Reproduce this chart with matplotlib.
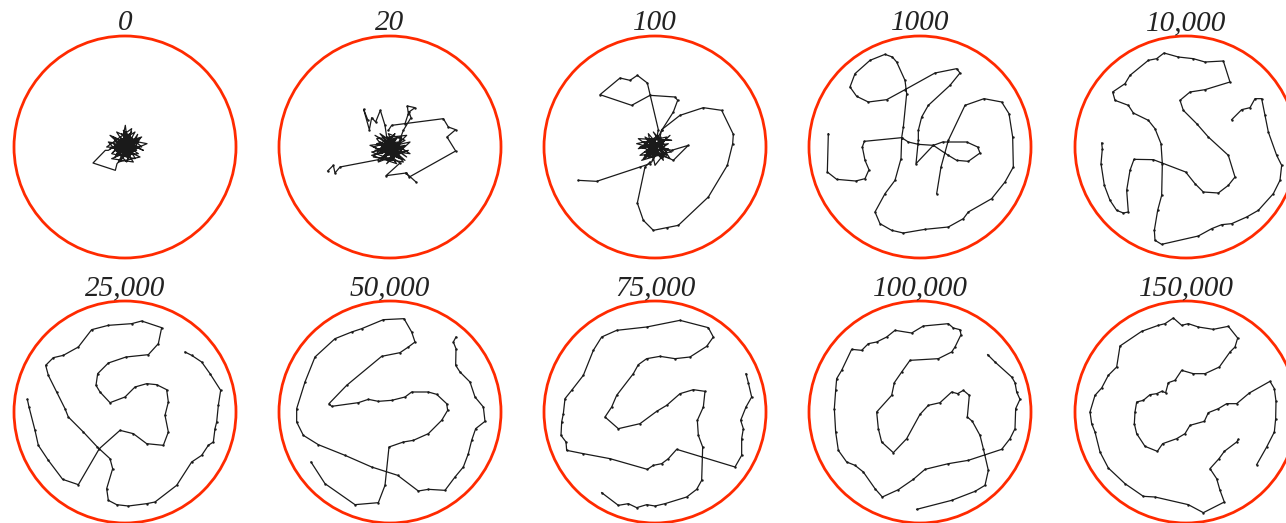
import matplotlib
matplotlib.use("Agg")
import matplotlib.pyplot as plt
from matplotlib.patches import Circle

# panel titles (simulation step)
titles = ["0", "20", "100", "1000", "10,000",
          "25,000", "50,000", "75,000", "100,000", "150,000"]

# digitised traces: points in picture pixels (x3) of each panel crop,
# together with the circle centre of that crop; circle radius = 333 units
R_DIG = 333
dig_centres = [(344, 350), (355, 350), (345, 350), (345, 350), (363, 350),
               (345, 350), (355, 350), (345, 350), (345, 350), (363, 350)]

# dense tangles at the start, given relative to the circle centre
cluster_0 = [(0, 5), (-30, 20), (25, -15), (-10, 40), (35, 10), (-45, -5), (15, 30), (-20, -25),
             (40, -20), (-35, 30), (10, -35), (45, 25), (-25, 5), (20, 45), (-40, -20), (30, -35),
             (-5, 50), (50, 0), (-50, 15), (5, -45), (38, 38), (-15, -40), (25, 15), (-30, -10),
             (15, -20), (-45, 35), (55, -10), (-10, 20), (30, 45), (-20, -45), (45, -30), (-35, 10),
             (0, -25), (20, 55), (-55, 0), (35, -5), (-5, 35), (1, 65), (10, -10), (-25, 45),
             (40, 15), (66, 10), (-40, -35), (25, -45), (-15, 10), (50, 30), (-30, -30), (5, 25),
             (-50, -10), (-59, -10), (-96, -48), (-29, -70), (-24, -50), (30, 5), (-10, -15), (15, 40),
             (-20, 15), (20, -5), (-10, -30), (30, 25), (-35, -15), (5, 15), (25, -25), (-15, 30),
             (35, -10), (-25, -20), (10, 30), (-5, -10), (28, 12), (-30, 0), (15, -30), (-8, 22)]
cluster_20 = [(-5, 0), (30, -20), (-40, 10), (20, 25), (-25, -35), (45, 5), (-55, -15), (10, -40),
              (35, 30), (-15, 20), (50, -30), (-45, 35), (25, -5), (-10, -50), (60, 15), (-30, -5),
              (15, 40), (-50, -30), (40, -45), (-20, 30), (5, -20), (55, -10), (-35, -45), (25, 15),
              (-60, 5), (30, -35), (-5, 40), (45, 20), (-25, -20), (10, 5), (-45, -10), (35, -15),
              (0, 30), (-15, -30), (50, 35), (-40, 25), (20, -50), (-55, -25), (40, 0), (-10, 10),
              (25, -25), (-30, 40), (60, -20), (-20, -10), (15, 20), (-50, 0), (45, -40), (5, -5),
              (-30, 15), (20, -15), (-10, -25), (30, 10), (-35, -20), (10, 20), (-20, 5), (25, -30),
              (-5, 25), (35, -5), (-25, -10), (15, -10)]
cluster_100 = [(0, 0), (-35, 15), (30, -20), (-20, -30), (40, 10), (-50, -5), (10, 35), (25, -40),
               (-30, 30), (50, -15), (-45, -25), (15, 20), (-10, -45), (35, 30), (-55, 10), (20, -10),
               (-25, -10), (45, -35), (-5, 45), (30, 5), (-40, -40), (10, -25), (-15, 25), (50, 20),
               (-50, 25), (25, -30), (-30, -15), (40, -5), (0, -55), (-20, 40), (35, -25), (-45, 0),
               (15, 10), (-10, -20), (45, 35), (-35, -35), (5, 25), (25, 15), (-25, 5),
               (-15, -5), (20, 20), (-30, -25), (10, -15), (-20, 20), (30, -10), (-5, 15), (15, -30)]

# arms / full chains in crop coordinates
arms_20 = [
    [(345, 320), (340, 285), (326, 240), (312, 275), (300, 262), (293, 298), (276, 237), (288, 268)],
    [(350, 300), (360, 285), (515, 265), (530, 290), (552, 298), (526, 320), (552, 362), (413, 440),
     (403, 428), (343, 436), (385, 398), (360, 380)],
    [(403, 428), (433, 455)],
    [(168, 422), (185, 405), (190, 428), (205, 410), (320, 388), (345, 370)],
    [(380, 340), (395, 300), (418, 262), (412, 245), (430, 232), (407, 227), (410, 250), (400, 280)],
]
arms_100 = [
    [(350, 325), (355, 298), (322, 158), (292, 135), (270, 150), (240, 143), (180, 193), (275, 225),
     (330, 195), (405, 200), (413, 210), (400, 245), (365, 300), (355, 320)],
    [(360, 320), (365, 298), (420, 255), (490, 232), (545, 240), (580, 312), (578, 340), (562, 405),
     (505, 500), (415, 585), (380, 592), (340, 600), (310, 570), (292, 518), (315, 410), (330, 395)],
    [(115, 450), (170, 453), (300, 410), (330, 400)],
    [(370, 375), (400, 390), (445, 345), (395, 360), (375, 355)],
]
chain_1000 = [(70, 310), (67, 425), (95, 447), (152, 452), (180, 445), (192, 418), (180, 390), (172, 350),
              (178, 333), (290, 322), (310, 335), (340, 342), (385, 345), (413, 335), (485, 335), (518, 350),
              (525, 368), (490, 393), (455, 390), (430, 375), (385, 345), (333, 400), (340, 330), (340, 300),
              (350, 260), (370, 225), (435, 165), (465, 128), (455, 115), (390, 128), (300, 178), (245, 208),
              (190, 215), (155, 198), (135, 170), (150, 130), (195, 90), (240, 72), (262, 80), (275, 95),
              (300, 150), (305, 190), (295, 290), (290, 322), (288, 385), (270, 450), (240, 490), (210, 545),
              (225, 580), (260, 600), (295, 608), (360, 597), (430, 590), (475, 565), (490, 545), (560, 505),
              (600, 455), (625, 410), (623, 320), (612, 250), (590, 215), (537, 205), (480, 225), (430, 330),
              (408, 410), (395, 490)]
chain_10000 = [(500, 268), (530, 238), (555, 232), (570, 205), (590, 205), (600, 255), (610, 305), (635, 375),
               (650, 405), (645, 450), (625, 490), (580, 540), (545, 560), (500, 580), (470, 583), (440, 595),
               (400, 617), (290, 642), (270, 630), (268, 600), (278, 540), (290, 495), (292, 400), (288, 340),
               (270, 295), (250, 270), (205, 248), (190, 225), (150, 210), (143, 185), (180, 160), (195, 135),
               (250, 90), (275, 85), (297, 68), (340, 80), (385, 85), (420, 95), (475, 92), (495, 155),
               (420, 178), (375, 185), (345, 210), (355, 240), (395, 280), (430, 320), (490, 375), (510, 440),
               (490, 465), (460, 488), (415, 485), (390, 460), (362, 425), (265, 388), (207, 387), (195, 420),
               (185, 480), (190, 545), (175, 548), (155, 540), (135, 510), (118, 465), (108, 400), (112, 355),
               (110, 338)]
chain_25000 = [(52, 312), (57, 335), (75, 405), (85, 450), (115, 495), (158, 552), (205, 568), (268, 460),
               (330, 405), (370, 415), (410, 445), (460, 450), (475, 410), (465, 360), (475, 320), (470, 283),
               (440, 268), (410, 265), (375, 275), (345, 305), (300, 322), (270, 290), (258, 270), (263, 235),
               (295, 203), (348, 185), (415, 178), (445, 145), (455, 97), (395, 77), (365, 85), (295, 90),
               (245, 103), (205, 155), (160, 180), (130, 187), (107, 210), (115, 240), (140, 290), (165, 340),
               (175, 365), (220, 410), (262, 455), (300, 490), (308, 520), (290, 580), (295, 615), (320, 628),
               (355, 632), (410, 625), (435, 620), (500, 570), (545, 500), (575, 480), (595, 450), (610, 440),
               (615, 400), (620, 380), (625, 330), (632, 285), (600, 235), (575, 200), (545, 180), (525, 170)]
chain_50000 = [(118, 500), (160, 565), (250, 628), (320, 622), (340, 570), (352, 455), (395, 440), (425, 435),
               (470, 415), (510, 375), (528, 345), (525, 325), (495, 297), (470, 290), (420, 290), (400, 305),
               (360, 315), (320, 318), (290, 312), (260, 322), (180, 333), (172, 325), (225, 270), (330, 183),
               (385, 172), (410, 155), (430, 140), (420, 110), (397, 70), (335, 73), (270, 100), (240, 110),
               (190, 130), (130, 185), (100, 260), (75, 340), (75, 380), (95, 420), (140, 448), (220, 480),
               (300, 515), (378, 540), (440, 587), (470, 582), (520, 585), (550, 545), (575, 515), (590, 475),
               (600, 435), (612, 400), (640, 378), (635, 335), (610, 305), (595, 260), (565, 230), (552, 210),
               (553, 160), (545, 140), (553, 125)]
chain_75000 = [(185, 592), (235, 630), (265, 625), (290, 637), (320, 628), (345, 632), (375, 625), (440, 605),
               (470, 582), (485, 555), (488, 455), (475, 420), (472, 375), (490, 335), (495, 288), (460, 283),
               (420, 295), (380, 330), (350, 348), (300, 385), (235, 400), (195, 365), (215, 335), (230, 300),
               (280, 235), (295, 208), (320, 190), (360, 183), (405, 190), (450, 185), (500, 153), (520, 125),
               (505, 97), (420, 75), (320, 95), (230, 105), (185, 125), (160, 165), (130, 240), (95, 285),
               (75, 310), (70, 355), (65, 380), (63, 420), (78, 440), (80, 465), (130, 475), (210, 490),
               (322, 522), (340, 510), (365, 505), (385, 490), (410, 462), (585, 515), (605, 480), (605, 430),
               (610, 400), (602, 375), (618, 335), (635, 305), (625, 262), (618, 235)]
chain_100000 = [(548, 178), (570, 200), (620, 245), (630, 262), (635, 290), (645, 312), (632, 340), (630, 400),
                (615, 430), (590, 462), (490, 495), (430, 505), (360, 522), (325, 552), (280, 583), (232, 605),
                (210, 580), (175, 530), (150, 510), (125, 500), (100, 465), (92, 410), (88, 340), (92, 285),
                (95, 250), (110, 225), (140, 162), (170, 165), (190, 145), (215, 140), (245, 125), (270, 105),
                (320, 113), (355, 92), (430, 85), (445, 98), (465, 103), (468, 118), (450, 155), (440, 170),
                (400, 190), (315, 195), (290, 230), (268, 262), (260, 300), (215, 350), (220, 400), (230, 440),
                (265, 472), (305, 430), (345, 357), (370, 330), (405, 322), (440, 290), (458, 295), (475, 285),
                (493, 300), (487, 365), (502, 378), (525, 420), (535, 460), (550, 525), (540, 570), (510, 588),
                (440, 615), (335, 642)]
chain_150000 = [(575, 508), (605, 455), (628, 410), (632, 370), (633, 318), (628, 280), (615, 258), (553, 293),
                (515, 325), (485, 325), (460, 340), (430, 352), (418, 378), (375, 390), (360, 415), (335, 430),
                (293, 445), (277, 468), (240, 453), (215, 415), (208, 385), (210, 350), (215, 320), (235, 315),
                (255, 298), (275, 295), (290, 288), (302, 292), (310, 262), (330, 255), (350, 225), (385, 235),
                (420, 235), (463, 215), (495, 170), (510, 155), (518, 128), (490, 93), (445, 102), (400, 95),
                (370, 85), (350, 90), (325, 68), (300, 85), (280, 90), (230, 108), (165, 152), (155, 215),
                (130, 240), (110, 278), (90, 300), (75, 350), (80, 385), (90, 410), (105, 470), (130, 518),
                (180, 565), (235, 603), (270, 605), (370, 628), (415, 652), (478, 620), (465, 585), (455, 550),
                (435, 520), (462, 490), (478, 468), (515, 440), (520, 432)]

clusters = [cluster_0, cluster_20, cluster_100, None, None, None, None, None, None, None]
chains = [[], arms_20, arms_100, [chain_1000], [chain_10000],
          [chain_25000], [chain_50000], [chain_75000], [chain_100000], [chain_150000]]

RED = "#ff2a00"
INK = "#1a1a1a"
W, H = 1286, 523
col_x = [125, 390, 655, 920, 1186]
row_y = [147, 412]
R_PX = 111
half = R_PX * 1.08

fig = plt.figure(figsize=(W / 100, H / 100), dpi=100)

for i, title in enumerate(titles):
    cx, cy = col_x[i % 5], row_y[i // 5]
    ax = fig.add_axes([(cx - half) / W, (H - cy - half) / H, 2 * half / W, 2 * half / H])
    ax.set_xlim(-1.08, 1.08)
    ax.set_ylim(-1.08, 1.08)
    ax.set_aspect("equal")
    ax.axis("off")
    ax.add_patch(Circle((0, 0), 1, fill=False, ec=RED, lw=2.0))

    dcx, dcy = dig_centres[i]
    if clusters[i] is not None:
        xs = [p[0] / R_DIG for p in clusters[i]]
        ys = [p[1] / R_DIG for p in clusters[i]]
        ax.plot(xs, ys, color=INK, lw=0.9)
    for seg in chains[i]:
        xs = [(p[0] - dcx) / R_DIG for p in seg]
        ys = [(dcy - p[1]) / R_DIG for p in seg]
        ax.plot(xs, ys, color=INK, lw=0.9, marker=".", ms=1.5)

    fig.text(cx / W, (H - (cy - R_PX - 6)) / H, title, ha="center", va="baseline",
             fontsize=21, family="Liberation Serif", style="italic", color="#222222")

fig.savefig("out.png", dpi=100)
